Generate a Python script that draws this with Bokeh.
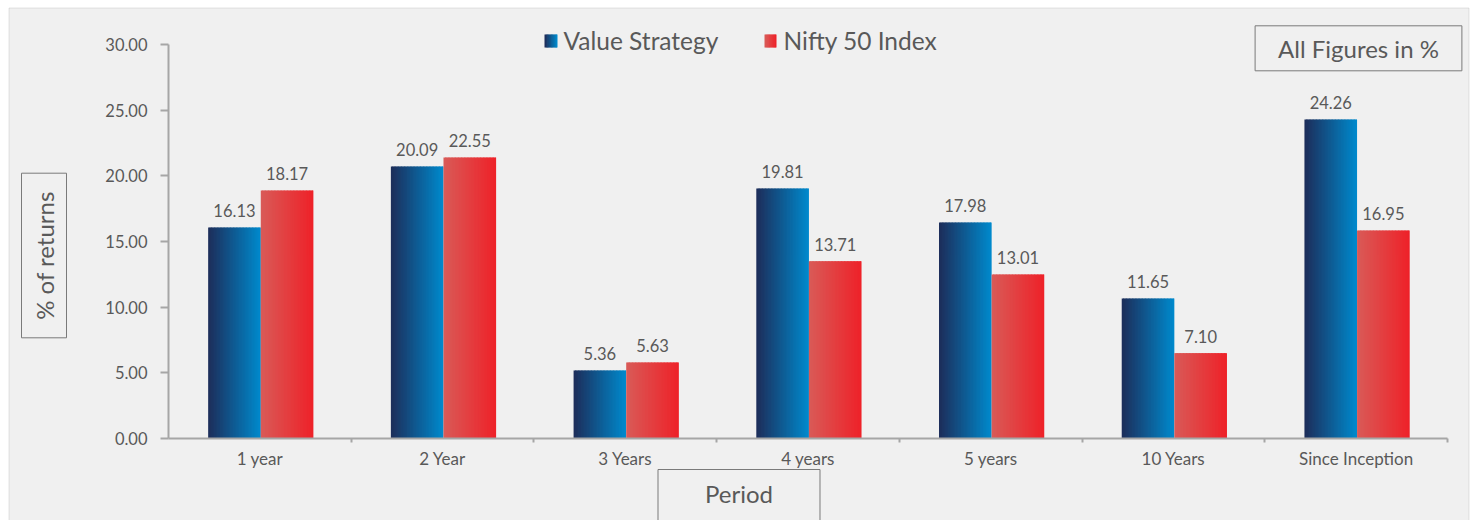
import numpy as np
from bokeh.plotting import figure
from bokeh.models import (Range1d, FixedTicker, PrintfTickFormatter, Label,
                          BoxAnnotation, ColumnDataSource)
from bokeh.core.properties import value
from bokeh.embed import file_html
from bokeh.resources import INLINE

# ---------------- data ----------------
categories = ["1 year", "2 Year", "3 Years", "4 years", "5 years", "10 Years", "Since Inception"]
series_names = ["Value Strategy", "Nifty 50 Index"]
# bar heights as drawn
value_strategy = [16.07, 20.71, 5.18, 19.04, 16.45, 10.66, 24.29]
nifty_50 = [18.88, 21.40, 5.79, 13.50, 12.49, 6.50, 15.84]
# printed data labels
value_strategy_labels = [16.13, 20.09, 5.36, 19.81, 17.98, 11.65, 24.26]
nifty_50_labels = [18.17, 22.55, 5.63, 13.71, 13.01, 7.10, 16.95]
y_ticks = [0, 5, 10, 15, 20, 25, 30]

# ---------------- layout / style ----------------
FONT = "Lato"
TXT = "#595959"
BG = "#f0f0f0"
AXIS = "#a6a6a6"
BOX = "#7a7a7a"
VALUE_COLS = ("#1d2e5b", "#0089cc")
NIFTY_COLS = ("#d95a57", "#ee2229")

W, H = 1477, 520
X0_PX, UX = 168.0, 1279.0 / 7      # pixel of x=0, pixels per category
Y0_PX, UY = 438.0, 394.0 / 30      # pixel of y=0, pixels per unit


def px2x(px):
    return (px - X0_PX) / UX


def px2y(py):
    return (Y0_PX - py) / UY


def hex2rgb(h):
    h = h.lstrip("#")
    return np.array([int(h[i:i + 2], 16) for i in (0, 2, 4)], dtype=float)


def ramp(c1, c2, n):
    a, b = hex2rgb(c1), hex2rgb(c2)
    out = []
    for t in np.linspace(0, 1, n):
        r, g, bb = (a + (b - a) * t).round().astype(int)
        out.append("#%02x%02x%02x" % (r, g, bb))
    return out


N = 36
BW = 0.288
SHIFT = 0.005


def gradient_source(lefts, rights, bottoms, tops, cols, n):
    colors = ramp(cols[0], cols[1], n)
    L, R, B, T, C = [], [], [], [], []
    for l, r, b, t in zip(lefts, rights, bottoms, tops):
        step = (r - l) / n
        for k in range(n):
            L.append(l + k * step)
            R.append(min(r, l + (k + 1.6) * step))
            B.append(b)
            T.append(t)
            C.append(colors[k])
    return ColumnDataSource(dict(left=L, right=R, bottom=B, top=T, color=C))


p = figure(width=W, height=H, output_backend="svg", toolbar_location=None,
           x_range=Range1d(px2x(0), px2x(W)), y_range=Range1d(px2y(H), px2y(0)),
           min_border=0, background_fill_color="white", border_fill_color="white")
p.min_border_left = p.min_border_right = p.min_border_top = p.min_border_bottom = 0
p.outline_line_color = None
p.grid.visible = False

# grey chart area with its frame
p.add_layout(BoxAnnotation(left=px2x(8.5), right=px2x(1468.5), top=px2y(7.5), bottom=px2y(560),
                           fill_color=BG, fill_alpha=1, line_color=AXIS, line_width=1,
                           level="underlay"))

idx = np.arange(len(categories))
v_left = idx + 0.5 - BW + SHIFT
v_right = idx + 0.5 + SHIFT
n_left = v_right
n_right = idx + 0.5 + BW + SHIFT

src_v = gradient_source(v_left, v_right, [0] * len(idx), value_strategy, VALUE_COLS, N)
src_n = gradient_source(n_left, n_right, [0] * len(idx), nifty_50, NIFTY_COLS, N)
p.quad(left="left", right="right", bottom="bottom", top="top", fill_color="color",
       line_color=None, source=src_v)
p.quad(left="left", right="right", bottom="bottom", top="top", fill_color="color",
       line_color=None, source=src_n)

# data labels
lab_src = ColumnDataSource(dict(
    x=list((v_left + v_right) / 2) + list((n_left + n_right) / 2),
    y=value_strategy + nifty_50,
    t=["%.2f" % v for v in value_strategy_labels] + ["%.2f" % v for v in nifty_50_labels],
))
p.text(x="x", y="y", text="t", source=lab_src, y_offset=-17,
       text_align="center", text_baseline="middle",
       text_font=value(FONT), text_font_size="16.5px", text_color=TXT)

# ---------------- axes (fixed at the origin) ----------------
xa = p.xaxis[0]
xa.fixed_location = 0
xa.ticker = FixedTicker(ticks=list(idx + 0.5), minor_ticks=list(range(1, len(categories) + 1)))
xa.major_label_overrides = {float(i + 0.5): c for i, c in enumerate(categories)}
xa.bounds = (0, len(categories))
xa.axis_line_color = AXIS
xa.axis_line_width = 2
xa.major_tick_line_color = None
xa.major_tick_in = 0
xa.major_tick_out = 0
xa.minor_tick_line_color = AXIS
xa.minor_tick_line_width = 2
xa.minor_tick_in = 0
xa.minor_tick_out = 4
xa.major_label_standoff = 5
xa.major_label_text_font = FONT
xa.major_label_text_font_size = "17px"
xa.major_label_text_color = TXT

ya = p.yaxis[0]
ya.fixed_location = 0
ya.ticker = FixedTicker(ticks=y_ticks)
ya.formatter = PrintfTickFormatter(format="%.2f")
ya.bounds = (y_ticks[0], y_ticks[-1])
ya.axis_line_color = AXIS
ya.axis_line_width = 2
ya.major_tick_line_color = AXIS
ya.major_tick_line_width = 2
ya.major_tick_in = 0
ya.major_tick_out = 8
ya.minor_tick_line_color = None
ya.major_label_standoff = 13
ya.major_label_text_font = FONT
ya.major_label_text_font_size = "16.5px"
ya.major_label_text_color = TXT

# ---------------- legend (manual, gradient swatches) ----------------
sw_v = gradient_source([px2x(544)], [px2x(557)], [px2y(47)], [px2y(34)], VALUE_COLS, 10)
sw_n = gradient_source([px2x(764)], [px2x(776)], [px2y(47)], [px2y(34)], NIFTY_COLS, 10)
for s in (sw_v, sw_n):
    p.quad(left="left", right="right", bottom="bottom", top="top", fill_color="color",
           line_color=None, source=s)
leg_src = ColumnDataSource(dict(x=[px2x(563), px2x(783)], y=[px2y(39.5)] * 2, t=series_names))
p.text(x="x", y="y", text="t", source=leg_src, text_align="left", text_baseline="middle",
       text_font=value(FONT), text_font_size="24.5px", text_color=TXT)

# ---------------- boxed texts ----------------
p.add_layout(Label(x=px2x(1358), y=px2y(47.8), text="All Figures in %",
                   text_align="center", text_baseline="middle",
                   text_font=FONT, text_font_size="24px", text_color=TXT,
                   border_line_color=BOX, border_line_width=1,
                   background_fill_color=BG,
                   padding=dict(left=23, right=23, top=8, bottom=8)))
p.add_layout(Label(x=px2x(43.5), y=px2y(255), text="% of returns", angle=90, angle_units="deg",
                   text_align="center", text_baseline="middle",
                   text_font=FONT, text_font_size="24px", text_color=TXT,
                   border_line_color=BOX, border_line_width=1,
                   background_fill_color=BG,
                   padding=dict(left=18, right=18, top=8, bottom=8)))
p.add_layout(Label(x=px2x(738.5), y=px2y(496), text="Period",
                   text_align="center", text_baseline="middle",
                   text_font=FONT, text_font_size="24px", text_color=TXT,
                   border_line_color=BOX, border_line_width=1,
                   background_fill_color=BG,
                   padding=dict(left=47, right=47, top=9, bottom=16)))

open("out.html", "w").write(file_html(p, INLINE))
